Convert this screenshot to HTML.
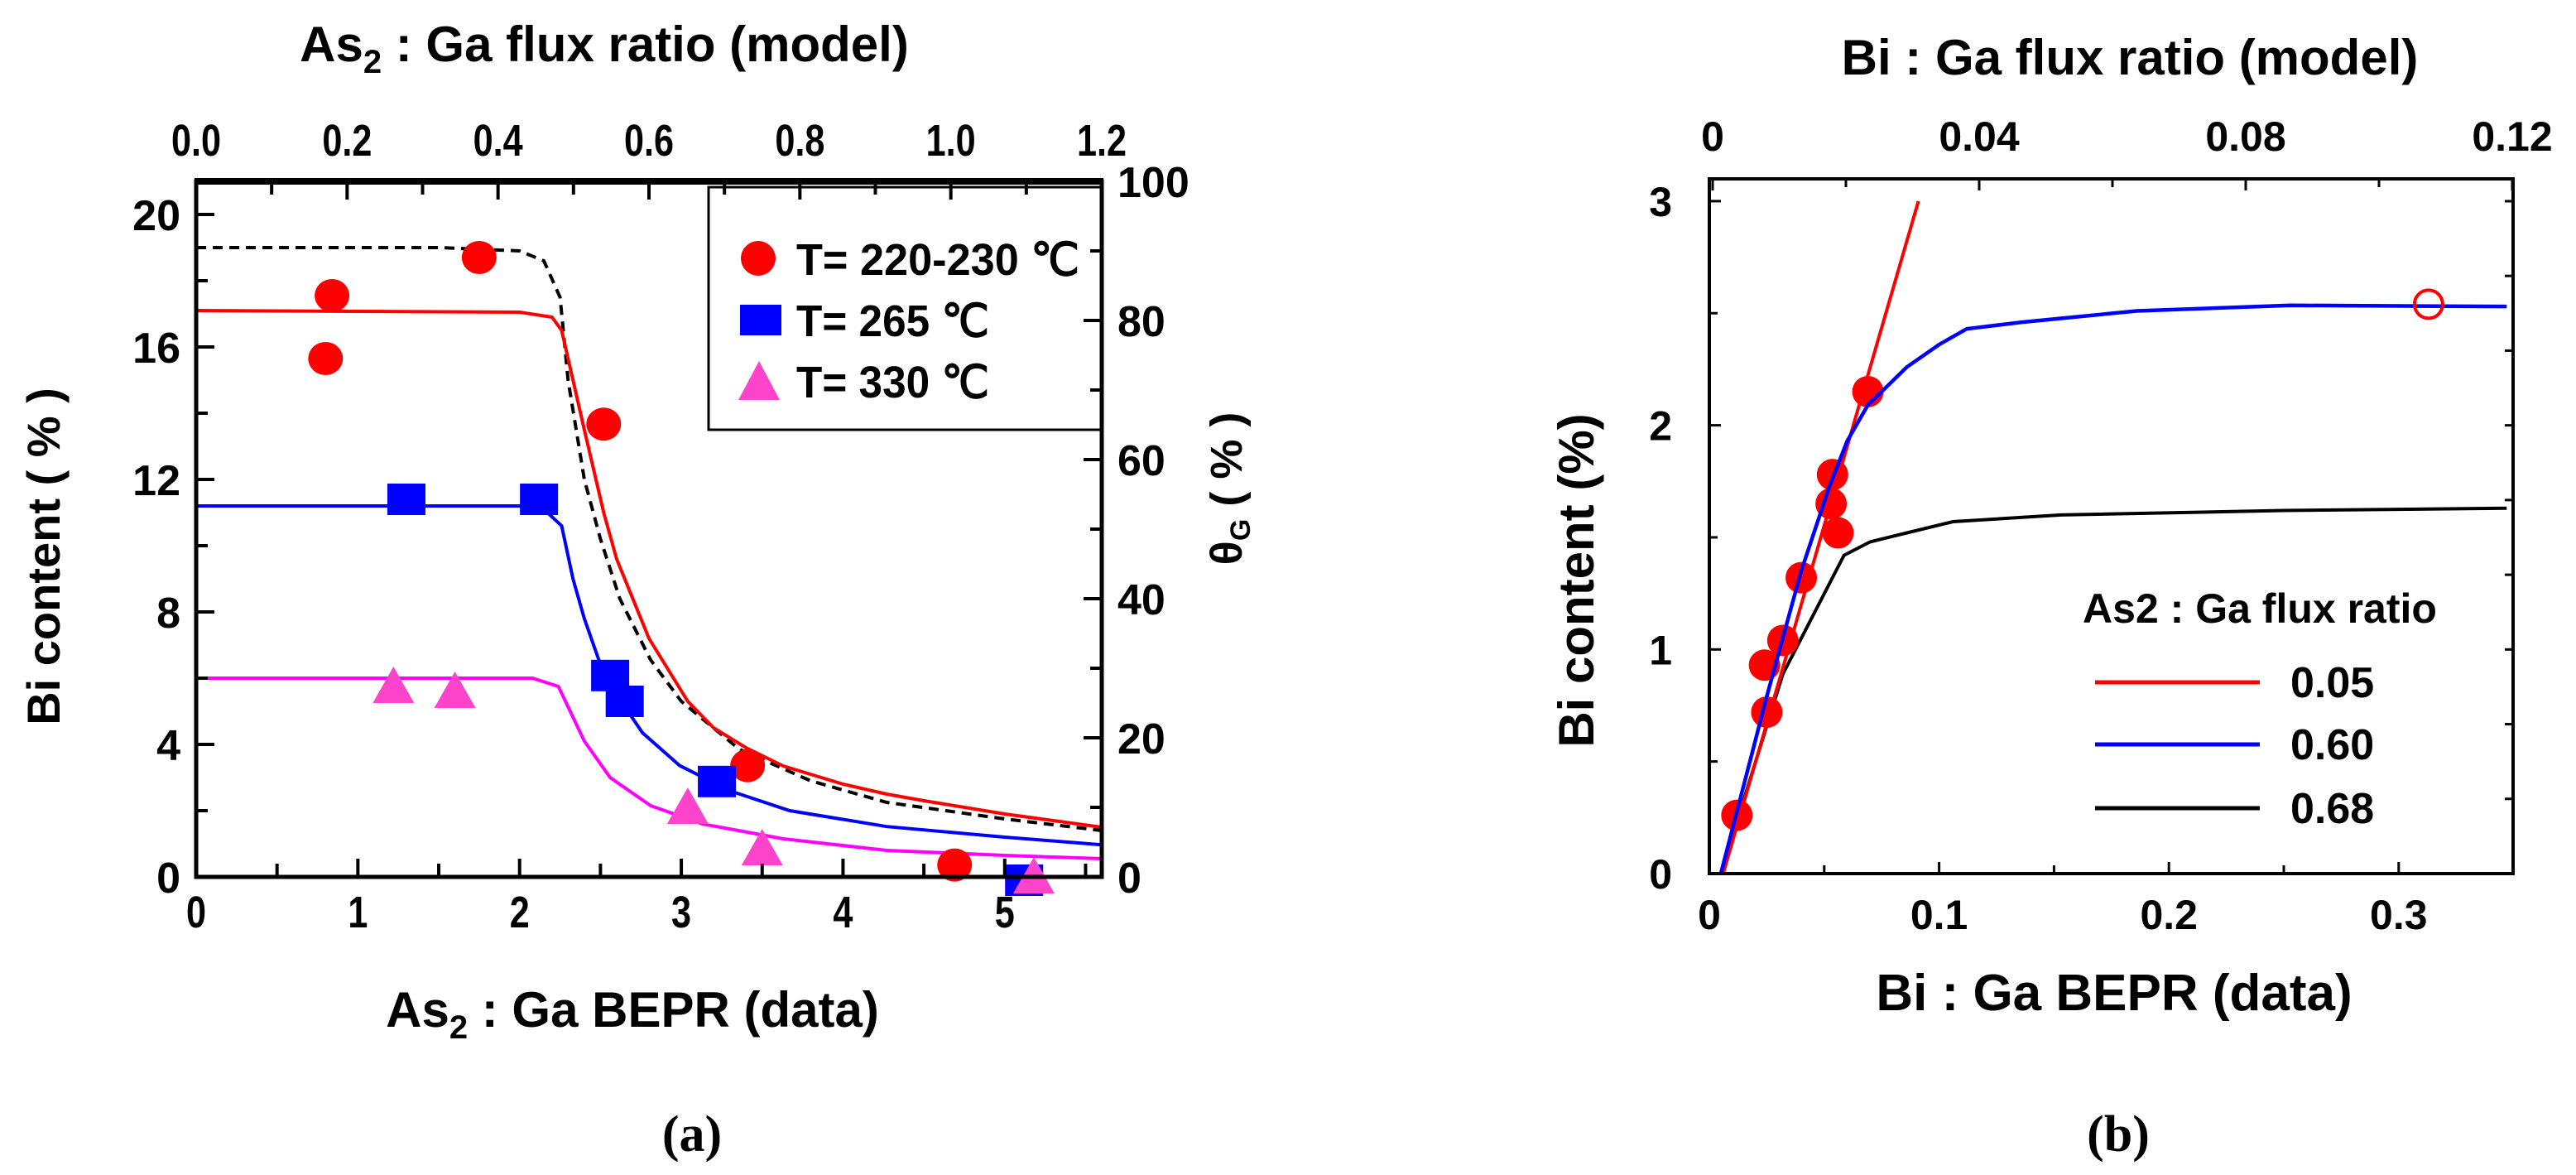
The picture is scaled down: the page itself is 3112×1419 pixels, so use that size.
<!DOCTYPE html>
<html><head><meta charset="utf-8"><style>
html,body{margin:0;padding:0;background:#fff;}
svg{display:block;}
.ar{font-family:"Liberation Sans",Arial,sans-serif;font-weight:bold;}
.nr{font-family:"Liberation Sans Narrow","Liberation Sans",sans-serif;font-weight:bold;}
.sf{font-family:"Liberation Serif",serif;font-weight:bold;}
</style></head><body>
<svg id="fig" width="3112" height="1419" viewBox="0 0 3112 1419" xmlns="http://www.w3.org/2000/svg">
<rect width="3112" height="1419" fill="#fff"/>
<g id="pa"></g>
<g id="pb"></g>
</svg>
<script>
// ---------- Panel (a) data ----------
const aXTicks = [0,1,2,3,4,5];
const aYTicks = [0,4,8,12,16,20];
const aTopTicks = ["0.0","0.2","0.4","0.6","0.8","1.0","1.2"];
const aRightTicks = [0,20,40,60,80,100];
const aRedCurveX = [0,2.0,2.2,2.26,2.4,2.52,2.6,2.8,3.04,3.2,3.4,3.63,4.0,4.27,4.5,5.0,5.6];
const aRedCurveY = [17.1,17.05,16.9,16.5,13.5,11,9.6,7.2,5.3,4.5,3.9,3.35,2.8,2.5,2.3,1.9,1.5];
const aDashX = [0,1.5,2.0,2.15,2.25,2.3,2.4,2.5,2.62,2.81,3.0,3.36,3.8,4.27,5.0,5.6];
const aDashY = [19,19,18.9,18.6,17.5,15,12,10.2,8.4,6.55,5.3,3.85,2.9,2.25,1.75,1.4];
const aBlueCurveX = [0,2.0,2.15,2.26,2.33,2.4,2.49,2.6,2.76,2.99,3.3,3.67,4.27,5.0,5.6];
const aBlueCurveY = [11.2,11.2,11.1,10.6,9.0,7.8,6.55,5.5,4.35,3.36,2.6,2.0,1.52,1.2,0.97];
const aMagCurveX = [0,2.08,2.24,2.40,2.56,2.81,3.13,3.63,4.27,5.0,5.6];
const aMagCurveY = [6.0,6.0,5.75,4.1,3.0,2.15,1.6,1.15,0.8,0.65,0.55];
const aRedPtsX = [0.84,0.80,1.75,2.52,3.41,4.69];
const aRedPtsY = [17.55,15.65,18.7,13.67,3.36,0.36];
const aBluePtsX = [1.30,2.12,2.56,2.65,3.22,5.12];
const aBluePtsY = [11.4,11.4,6.08,5.3,2.88,-0.1];
const aMagPtsX = [1.22,1.60,3.04,3.50,5.18];
const aMagPtsY = [5.75,5.6,2.1,0.85,0.0];
const aLegend = ["T= 220-230 \u2103","T= 265 \u2103","T= 330 \u2103"];

// ---------- Panel (b) data ----------
const bXTicks = [0,0.1,0.2,0.3];
const bXTickLabels = ["0","0.1","0.2","0.3"];
const bYTicks = [0,1,2,3];
const bTopTicks = [0,0.04,0.08,0.12];
const bTopLabels = ["0","0.04","0.08","0.12"];
const bRedLineX = [0.006,0.091];
const bRedLineY = [0,3.0];
const bBlueX = [0.005,0.025,0.04,0.052,0.06,0.069,0.086,0.1,0.112,0.136,0.186,0.253,0.347];
const bBlueY = [0,0.79,1.35,1.72,1.93,2.09,2.26,2.36,2.43,2.46,2.51,2.535,2.53];
const bBlackX = [0.005,0.032,0.0586,0.07,0.086,0.106,0.153,0.25,0.347];
const bBlackY = [0,0.89,1.42,1.48,1.52,1.57,1.60,1.62,1.63];
const bPtsX = [0.012,0.025,0.024,0.032,0.040,0.0536,0.053,0.056,0.069];
const bPtsY = [0.26,0.72,0.93,1.04,1.32,1.78,1.65,1.52,2.15];
const bOpenX = [0.313];
const bOpenY = [2.54];
const bLegendLabels = ["0.05","0.60","0.68"];

const NS = "http://www.w3.org/2000/svg";
function mk(parent, tag, attrs, text){
  const e = document.createElementNS(NS, tag);
  for (const k in attrs) e.setAttribute(k, attrs[k]);
  if (text !== undefined) e.textContent = text;
  parent.appendChild(e);
  return e;
}
function pathFrom(xs, ys, sx, sy){
  return xs.map((x,i)=>(i?"L":"M")+sx(x).toFixed(1)+","+sy(ys[i]).toFixed(1)).join(" ");
}

// ================= PANEL A =================
const pa = document.getElementById('pa');
const aL=237, aR=1331, aT=219, aB=1059;
const ax = v => aL + (v-0)/(5.6-0)*(aR-aL);
const ay = v => aB - v/21*(aB-aT);
const atop = v => aL + v/1.2*(aR-aL);
const aright = v => aB - v/100*(aB-aT);

const defs = mk(pa,'defs',{});
const cpa = mk(defs,'clipPath',{id:'clipA'});
mk(cpa,'rect',{x:aL,y:aT,width:aR-aL,height:aB-aT+30});

const gcA = mk(pa,'g',{'clip-path':'url(#clipA)'});
let e;
e = mk(gcA,'path',{d:pathFrom(aDashX,aDashY,ax,ay),fill:'none',stroke:'#000','stroke-width':4,'stroke-dasharray':'12 8'});


e = mk(gcA,'path',{d:pathFrom(aRedCurveX,aRedCurveY,ax,ay),fill:'none',stroke:'#ff0000','stroke-width':4});


e = mk(gcA,'path',{d:pathFrom(aBlueCurveX,aBlueCurveY,ax,ay),fill:'none',stroke:'#0000ff','stroke-width':4});


e = mk(gcA,'path',{d:pathFrom(aMagCurveX,aMagCurveY,ax,ay),fill:'none',stroke:'#ff00ff','stroke-width':4});



const gpA = mk(pa,'g',{});
aRedPtsX.forEach((x,i)=>{
  const c = mk(gpA,'ellipse',{cx:ax(x),cy:ay(aRedPtsY[i]),rx:21,ry:20,fill:'#ff0000'});
  
  
});
aBluePtsX.forEach((x,i)=>{
  const r = mk(gpA,'rect',{x:ax(x)-23,y:ay(aBluePtsY[i])-19,width:46,height:38,fill:'#0000ff'});
  
  
});
aMagPtsX.forEach((x,i)=>{
  const cx=ax(x), cy=ay(aMagPtsY[i]);
  const t = mk(gpA,'polygon',{points:`${cx-25},${cy+20} ${cx+25},${cy+20} ${cx},${cy-24}`,fill:'#ff44cc'});
  
  
});

const lgA = mk(pa,'g',{});


mk(lgA,'rect',{x:856,y:226,width:aR-856,height:293,fill:'#fff',stroke:'#000','stroke-width':3});
const lgy=[312,386,460];
mk(lgA,'circle',{cx:916,cy:lgy[0],r:21,fill:'#ff0000'});
mk(lgA,'rect',{x:894,y:lgy[1]-18,width:50,height:37,fill:'#0000ff'});
mk(lgA,'polygon',{points:`${892},${lgy[2]+23} ${942},${lgy[2]+23} ${917},${lgy[2]-24}`,fill:'#ff44cc'});
aLegend.forEach((s,i)=>{
  const t = mk(lgA,'text',{x:962,y:lgy[i]+20,class:'nr','font-size':54,textLength:(i===0?342:233),lengthAdjust:'spacingAndGlyphs'},s);
  
  
});

const frA = mk(pa,'g',{});
mk(frA,'rect',{x:aL,y:aT,width:aR-aL,height:aB-aT,fill:'none',stroke:'#000','stroke-width':5});
mk(frA,'line',{x1:aL-2,y1:aT,x2:aR+2,y2:aT,stroke:'#000','stroke-width':8});
for(let v=0; v<=5.5; v+=0.5){
  const big = Math.abs(v-Math.round(v))<1e-6;
  mk(frA,'line',{x1:ax(v),y1:aB,x2:ax(v),y2:aB-(big?22:16),stroke:'#000','stroke-width':4});
}
aXTicks.forEach(v=>{
  const t=mk(frA,'text',{transform:`translate(${ax(v)},1120) scale(0.8,1)`,'text-anchor':'middle',class:'nr','font-size':54},String(v));
  
  
});
for(let i=0;i<=12;i++){
  const v=i*0.1;
  mk(frA,'line',{x1:atop(v),y1:aT,x2:atop(v),y2:aT+(i%2===0?22:16),stroke:'#000','stroke-width':4});
}
aTopTicks.forEach((s,i)=>{
  const t=mk(frA,'text',{transform:`translate(${atop(i*0.2)},188) scale(0.8,1)`,'text-anchor':'middle',class:'nr','font-size':54},s);
  
  
});
for(let v=0; v<=20; v+=2){
  mk(frA,'line',{x1:aL,y1:ay(v),x2:aL+(v%4===0?22:14),y2:ay(v),stroke:'#000','stroke-width':4});
}
aYTicks.forEach(v=>{
  const t=mk(frA,'text',{x:218,y:ay(v)+19,'text-anchor':'end',class:'ar','font-size':52},String(v));
  
  
});
for(let v=0; v<=100; v+=10){
  mk(frA,'line',{x1:aR,y1:aright(v),x2:aR-(v%20===0?22:14),y2:aright(v),stroke:'#000','stroke-width':4});
}
aRightTicks.forEach(v=>{
  const t=mk(frA,'text',{x:1350,y:aright(v)+19,'text-anchor':'start',class:'ar','font-size':52},String(v));
  
  
});
</script>
<script>
(function(){
  const pa=document.getElementById('pa');
  pa.insertAdjacentHTML('beforeend',
   '<text x="730" y="74" text-anchor="middle" class="nr" font-size="60">As<tspan font-size="40" dy="14">2</tspan><tspan dy="-14"> : Ga flux ratio (model)</tspan></text>'+
   '<text x="764" y="1240" text-anchor="middle" class="nr" font-size="60">As<tspan font-size="40" dy="14">2</tspan><tspan dy="-14"> : Ga BEPR (data)</tspan></text>'+
   '<text transform="translate(72,672) rotate(-90)" text-anchor="middle" class="ar" font-size="56">Bi content ( % )</text>'+
   '<text transform="translate(1500,590) rotate(-90)" text-anchor="middle" class="ar" font-size="54">θ<tspan font-size="34" dy="10">G</tspan><tspan dy="-10"> ( % )</tspan></text>'+
   '<text x="836" y="1390" text-anchor="middle" class="sf" font-size="62">(a)</text>');
})();
</script>
<script>
(function(){
const pb = document.getElementById('pb');
const NS="http://www.w3.org/2000/svg";
function mk(parent, tag, attrs, text){
  const e = document.createElementNS(NS, tag);
  for (const k in attrs) e.setAttribute(k, attrs[k]);
  if (text !== undefined) e.textContent = text;
  parent.appendChild(e);
  return e;
}
function pathFrom(xs, ys, sx, sy){
  return xs.map((x,i)=>(i?"L":"M")+sx(x).toFixed(1)+","+sy(ys[i]).toFixed(1)).join(" ");
}
const bL=2065, bR=3036, bT=216, bB=1055;
const bx = v => bL + v/0.1*277.6;
const by = v => bB - v*270.7;
const btop = v => 2069 + v/0.04*322;

let e;
e = mk(pb,'path',{d:pathFrom(bBlackX,bBlackY,bx,by),fill:'none',stroke:'#000','stroke-width':4});


e = mk(pb,'path',{d:pathFrom(bRedLineX,bRedLineY,bx,by),fill:'none',stroke:'#ff0000','stroke-width':4});


bPtsX.forEach((x,i)=>{
  const c = mk(pb,'circle',{cx:bx(x),cy:by(bPtsY[i]),r:19,fill:'#ff0000'});
  
  
});
e = mk(pb,'path',{d:pathFrom(bBlueX,bBlueY,bx,by),fill:'none',stroke:'#0000ff','stroke-width':4.5});


bOpenX.forEach((x,i)=>{
  const c = mk(pb,'circle',{cx:bx(x),cy:by(bOpenY[i]),r:17,fill:'none',stroke:'#ff0000','stroke-width':4});
  
  
});

mk(pb,'rect',{x:bL,y:bT,width:bR-bL,height:bB-bT,fill:'none',stroke:'#000','stroke-width':4});
for(let i=0;i<=6;i++){
  const v=i*0.05;
  mk(pb,'line',{x1:bx(v),y1:bB,x2:bx(v),y2:bB-(i%2===0?14:10),stroke:'#000','stroke-width':3});
}
for(let i=0;i<=6;i++){
  const v=i*0.02;
  mk(pb,'line',{x1:btop(v),y1:bT,x2:btop(v),y2:bT+(i%2===0?14:10),stroke:'#000','stroke-width':3});
}
for(let i=0;i<=6;i++){
  const v=i*0.5;
  mk(pb,'line',{x1:bL,y1:by(v),x2:bL+(i%2===0?14:10),y2:by(v),stroke:'#000','stroke-width':3});
}
for(let v=0;v<=3.0;v+=0.3333){
  mk(pb,'line',{x1:bR,y1:by(v),x2:bR-10,y2:by(v),stroke:'#000','stroke-width':3});
}
bXTicks.forEach((v,i)=>{
  const t=mk(pb,'text',{x:bx(v),y:1122,'text-anchor':'middle',class:'ar','font-size':50},bXTickLabels[i]);
  
  
});
bTopTicks.forEach((v,i)=>{
  const t=mk(pb,'text',{x:btop(v),y:182,'text-anchor':'middle',class:'ar','font-size':50},bTopLabels[i]);
  
  
});
bYTicks.forEach(v=>{
  const t=mk(pb,'text',{x:2020,y:by(v)+18,'text-anchor':'end',class:'ar','font-size':50},String(v));
  
  
});
const lg = mk(pb,'g',{});


const lcol=['#ff0000','#0000ff','#000000'];
const lys=[824,899,976];
bLegendLabels.forEach((s,i)=>{
  const l=mk(lg,'line',{x1:2531,y1:lys[i],x2:2730,y2:lys[i],stroke:lcol[i],'stroke-width':5});
  
  
  const t=mk(lg,'text',{x:2767,y:lys[i]+18,class:'ar','font-size':52},s);
  
  
});
pb.insertAdjacentHTML('beforeend',
 '<text x="2730" y="752" text-anchor="middle" class="ar" font-size="50">As2 : Ga flux ratio</text>'+
 '<text x="2573" y="90" text-anchor="middle" class="ar" font-size="60">Bi : Ga flux ratio (model)</text>'+
 '<text x="2554" y="1220" text-anchor="middle" class="ar" font-size="62">Bi : Ga BEPR (data)</text>'+
 '<text transform="translate(1925,701) rotate(-90)" text-anchor="middle" class="ar" font-size="60">Bi content (%)</text>'+
 '<text x="2559" y="1390" text-anchor="middle" class="sf" font-size="62">(b)</text>');
})();
</script>
</body></html>
